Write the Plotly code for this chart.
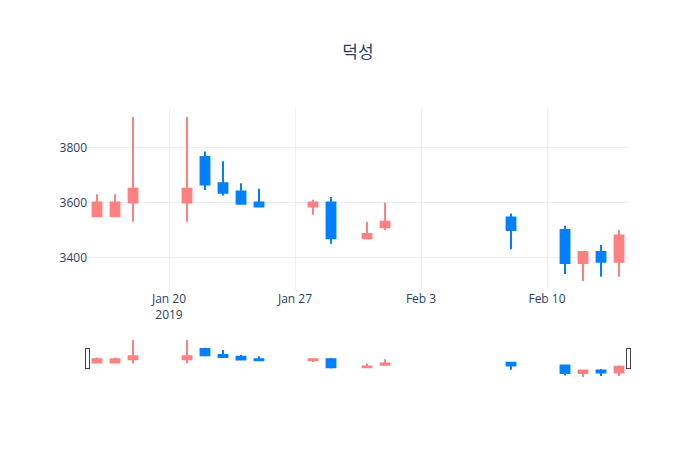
import plotly.graph_objects as go

dates = ["2019-01-16","2019-01-17","2019-01-18","2019-01-21","2019-01-22","2019-01-23","2019-01-24","2019-01-25",
         "2019-01-28","2019-01-29","2019-01-31","2019-02-01","2019-02-08","2019-02-11","2019-02-12","2019-02-13","2019-02-14"]
opens  = [3550,3550,3600,3600,3765,3670,3640,3600,3585,3600,3470,3510,3545,3500,3380,3420,3385]
highs  = [3630,3630,3910,3910,3785,3750,3670,3650,3610,3620,3530,3600,3560,3515,3420,3445,3500]
lows   = [3550,3550,3530,3530,3645,3625,3595,3585,3555,3450,3470,3500,3430,3340,3315,3330,3330]
closes = [3600,3600,3650,3650,3665,3635,3595,3585,3600,3470,3485,3530,3500,3380,3420,3385,3480]

fig = go.Figure(go.Candlestick(
    x=dates, open=opens, high=highs, low=lows, close=closes,
    increasing=dict(line=dict(color="#FF8080"), fillcolor="#FF8080"),
    decreasing=dict(line=dict(color="#0080FF"), fillcolor="#0080FF"),
))
fig.update_layout(
    template="plotly_white",
    title=dict(text="덕성", x=0.5),
    width=700, height=450,
    font=dict(family="Open Sans, Noto Sans CJK KR"),
    yaxis=dict(tickvals=[3400,3600,3800], zeroline=False),
)
fig.write_html("out.html")
